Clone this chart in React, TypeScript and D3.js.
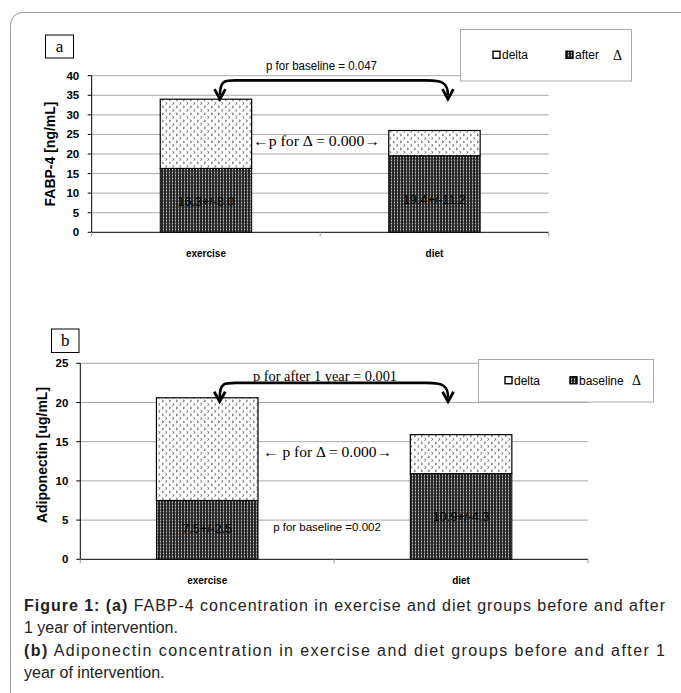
import * as d3 from 'd3'

const categories = ['exercise', 'diet']

// panel a: FABP-4 [ng/mL]
const fabpAfter = [16.3, 19.5]
const fabpDelta = [17.7, 6.5]
const fabpTicks = [0, 5, 10, 15, 20, 25, 30, 35, 40]
const fabpBarLabels = ['16.3+/-8.0', '19.4+/-11.2']

// panel b: Adiponectin [ug/mL]
const adipoBaseline = [7.5, 10.9]
const adipoDelta = [13.1, 5.0]
const adipoTicks = [0, 5, 10, 15, 20, 25]
const adipoBarLabels = ['7.5+/-2.5', '10.9+/-4.3']

const SANS = '"Liberation Sans", Arial, sans-serif'
const SERIF = '"Liberation Serif", "Times New Roman", serif'

type PanelProps = {
  id: string
  tag: string
  tagBox: [number, number, number, number]
  left: number
  right: number
  top: number
  bottom: number
  yMax: number
  ticks: number[]
  lower: number[]
  upper: number[]
  barLabels: string[]
  barLabelY: number[]
  yTitle: string
  yTitleX: number
  yTitleY: number
  tickGap: number
  legendBox: [number, number, number, number]
  legendItems: { x: number; text: string; dark: boolean }[]
  legendDeltaX: number
  topText: string
  topTextSerif: boolean
  topTextY: number
  topTextX: number
  topTextLen: number
  arrowLineY: number
  arrowTipY: number
  arrowTipDx: [number, number]
  midText: string
  midTextX: number
  midTextY: number
  midTextLen: number
  extraText?: string
  extraTextX?: number
  extraTextY?: number
}

function Panel(p: PanelProps) {
  const x = d3.scaleBand().domain(categories).range([p.left, p.right]).paddingInner(0.6).paddingOuter(0.3)
  const y = d3.scaleLinear().domain([0, p.yMax]).range([p.bottom, p.top])
  const step = x.step()
  const bw = x.bandwidth()
  const center = (c: string) => (x(c) as number) + bw / 2
  const tipX1 = center(categories[0]) + p.arrowTipDx[0]
  const tipX2 = center(categories[1]) + p.arrowTipDx[1]
  const lineY = y(p.arrowLineY)
  const tipY = y(p.arrowTipY)
  const [lx, ly, lw, lh] = p.legendBox
  const [tx, ty, tw, th] = p.tagBox

  return (
    <g>
      {/* gridlines */}
      {p.ticks.filter((t) => t > 0).map((t) => (
        <line key={t} x1={p.left} x2={p.right} y1={y(t)} y2={y(t)} stroke="#a8a8a8" strokeWidth={1} />
      ))}
      {/* y axis */}
      <line x1={p.left} x2={p.left} y1={p.top} y2={p.bottom} stroke="#000" />
      {p.ticks.map((t) => (
        <g key={t}>
          <line x1={p.left - 4} x2={p.left} y1={y(t)} y2={y(t)} stroke="#000" />
          <text x={p.left - p.tickGap} y={y(t) + 4} textAnchor="end" fontFamily={SANS} fontWeight="bold" fontSize={11.5}>
            {t}
          </text>
        </g>
      ))}
      {/* x axis */}
      <line x1={p.left} x2={p.right} y1={p.bottom} y2={p.bottom} stroke="#000" />
      {[0, 1, 2].map((i) => (
        <line key={i} x1={p.left + i * step} x2={p.left + i * step} y1={p.bottom} y2={p.bottom + 4} stroke="#999" />
      ))}
      {categories.map((c) => (
        <text key={c} x={center(c)} y={p.bottom + 24.5} textAnchor="middle" fontFamily={SANS} fontWeight="bold" fontSize={10}>
          {c}
        </text>
      ))}
      {/* bars */}
      {categories.map((c, i) => (
        <g key={c}>
          <rect x={x(c)} y={y(p.lower[i] + p.upper[i])} width={bw} height={y(p.lower[i]) - y(p.lower[i] + p.upper[i])}
            fill={`url(#delta-${p.id})`} stroke="#000" strokeWidth={1.2} />
          <rect x={x(c)} y={y(p.lower[i])} width={bw} height={y(0) - y(p.lower[i])}
            fill={`url(#dark-${p.id})`} stroke="#000" strokeWidth={1} />
          <text x={center(c)} y={y(p.barLabelY[i])} textAnchor="middle" fontFamily={SANS} fontSize={12.5} fill="#000">
            {p.barLabels[i]}
          </text>
        </g>
      ))}
      {/* y title */}
      <text transform={`translate(${p.yTitleX},${p.yTitleY}) rotate(-90)`} textAnchor="middle" fontFamily={SANS}
        fontWeight="bold" fontSize={14}>
        {p.yTitle}
      </text>
      {/* tag box */}
      <rect x={tx} y={ty} width={tw} height={th} fill="#fff" stroke="#000" />
      <text x={tx + tw / 2} y={ty + th / 2 + 5.5} textAnchor="middle" fontFamily={SERIF} fontSize={17}>
        {p.tag}
      </text>
      {/* legend */}
      <rect x={lx} y={ly} width={lw} height={lh} fill="#fff" stroke="#aaa" />
      {p.legendItems.map((it) => (
        <g key={it.text}>
          <rect x={it.x} y={ly + lh / 2 - 4} width={7} height={7}
            fill={it.dark ? `url(#dark-${p.id})` : '#fff'} stroke="#000" strokeWidth={1.4} />
          <text x={it.x + 9} y={ly + lh / 2 + 4} fontFamily={SANS} fontSize={12}>
            {it.text}
          </text>
        </g>
      ))}
      <text x={p.legendDeltaX} y={ly + lh / 2 + 4.5} fontFamily={SERIF} fontSize={14}>Δ</text>
      {/* annotations */}
      <text x={p.topTextX} y={y(p.topTextY)} textAnchor="middle" fontFamily={p.topTextSerif ? SERIF : SANS}
        fontSize={p.topTextSerif ? 14.5 : 12} textLength={p.topTextLen} lengthAdjust="spacingAndGlyphs">
        {p.topText}
      </text>
      <path
        d={`M ${tipX1} ${tipY - 4} C ${tipX1} ${lineY - 2} ${tipX1 + 6} ${lineY} ${tipX1 + 22} ${lineY} L ${tipX2 - 22} ${lineY} C ${tipX2 - 6} ${lineY} ${tipX2} ${lineY + 2} ${tipX2} ${tipY - 4}`}
        fill="none" stroke="#000" strokeWidth={2.6} />
      <polyline points={`${tipX1 - 5.5},${tipY - 10} ${tipX1},${tipY} ${tipX1 + 5.5},${tipY - 10}`} fill="none" stroke="#000" strokeWidth={2.8} />
      <polyline points={`${tipX2 - 5.5},${tipY - 10} ${tipX2},${tipY} ${tipX2 + 5.5},${tipY - 10}`} fill="none" stroke="#000" strokeWidth={2.8} />
      <text x={p.midTextX} y={y(p.midTextY)} textAnchor="middle" fontFamily={SERIF} fontSize={15}
        textLength={p.midTextLen} lengthAdjust="spacingAndGlyphs">
        {p.midText}
      </text>
      {p.extraText && (
        <text x={p.extraTextX} y={y(p.extraTextY as number)} textAnchor="middle" fontFamily={SANS} fontSize={11.5}>
          {p.extraText}
        </text>
      )}
    </g>
  )
}

function Patterns({ id }: { id: string }) {
  return (
    <>
      <pattern id={`delta-${id}`} width={7} height={7} patternUnits="userSpaceOnUse">
        <rect width={7} height={7} fill="#fff" />
        <path d="M1,0.8 L2.6,1.9 L1,3 M4.5,4.3 L6.1,5.4 L4.5,6.5" fill="none" stroke="#555" strokeWidth={0.9} />
      </pattern>
      <pattern id={`dark-${id}`} width={3} height={3} patternUnits="userSpaceOnUse">
        <rect width={3} height={3} fill="#262626" />
        <rect x={1} y={1} width={1} height={1} fill="#c0c0c0" />
        <rect x={1} y={0} width={1} height={1} fill="#6a6a6a" />
        <rect x={1} y={2} width={1} height={1} fill="#6a6a6a" />
      </pattern>
    </>
  )
}

export default function App() {
  return (
    <svg width={681} height={693} style={{ position: 'absolute', left: 0, top: 0, background: '#fff' }}>
      <defs>
        <Patterns id="a" />
        <Patterns id="b" />
      </defs>
      <rect x={0} y={0} width={681} height={693} fill="#fff" />
      <rect x={10.5} y={12.5} width={720} height={720} rx={12} fill="none" stroke="#9a9a9a" />

      <Panel
        id="a" tag="a" tagBox={[45.5, 35, 28, 23]}
        left={91.7} right={548.7} top={75.7} bottom={232.3} yMax={40} ticks={fabpTicks}
        lower={fabpAfter} upper={fabpDelta} barLabels={fabpBarLabels} barLabelY={[6.8, 7.3]}
        yTitle="FABP-4 [ng/mL]" yTitleX={55} yTitleY={154} tickGap={12.5}
        legendBox={[460.5, 29.5, 171, 51.5]}
        legendItems={[{ x: 493, text: 'delta', dark: false }, { x: 566, text: 'after', dark: true }]}
        legendDeltaX={613}
        topText="p for baseline = 0.047" topTextSerif={false} topTextY={41.4} topTextX={321.5} topTextLen={111}
        arrowLineY={38.8} arrowTipY={34} arrowTipDx={[14, 13.5]}
        midText="←p for Δ = 0.000→" midTextX={316.5} midTextY={22.1} midTextLen={127}
      />

      <Panel
        id="b" tag="b" tagBox={[51.5, 329, 27.5, 23.5]}
        left={80.3} right={588} top={363.3} bottom={559.3} yMax={25} ticks={adipoTicks}
        lower={adipoBaseline} upper={adipoDelta} barLabels={adipoBarLabels} barLabelY={[3.4, 4.9]}
        yTitle="Adiponectin [ug/mL]" yTitleX={47} yTitleY={455} tickGap={12}
        legendBox={[478.5, 359.5, 175, 42.5]}
        legendItems={[{ x: 505, text: 'delta', dark: false }, { x: 570, text: 'baseline', dark: true }]}
        legendDeltaX={632}
        topText="p for after 1 year = 0.001" topTextSerif={true} topTextY={22.75} topTextX={325} topTextLen={144}
        arrowLineY={22.5} arrowTipY={20.1} arrowTipDx={[12.5, -13]}
        midText="← p for Δ = 0.000→" midTextX={327.5} midTextY={13.0} midTextLen={129}
        extraText="p for baseline =0.002" extraTextX={327} extraTextY={3.6}
      />

      {/* caption */}
      <g fontFamily={SANS} fontSize={16} fill="#222">
        <text x={24} y={611} textLength={641} lengthAdjust="spacing">
          <tspan fontWeight="bold">Figure 1:  (a)</tspan> FABP-4 concentration in exercise and diet groups before and after
        </text>
        <text x={24} y={633}>1 year of intervention.</text>
        <text x={24} y={656} textLength={641} lengthAdjust="spacing">
          <tspan fontWeight="bold">(b)</tspan> Adiponectin concentration in exercise and diet groups before and after 1
        </text>
        <text x={24} y={678}>year of intervention.</text>
      </g>
    </svg>
  )
}
